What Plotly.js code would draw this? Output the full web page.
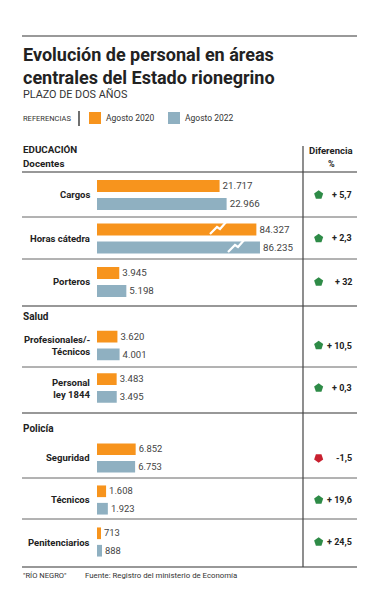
<!DOCTYPE html>
<html><head><meta charset="utf-8">
<script src="https://cdn.plot.ly/plotly-3.0.1.min.js"></script>
<style>html,body{margin:0;padding:0;background:#fff}#chart{width:383px;height:593px}</style>
</head><body><div id="chart"></div>
<script>
// ---- data ----
const sections = ["EDUCACIÓN", "Salud", "Policía"];
const eduCategories = ["Cargos", "Horas cátedra", "Porteros"];
const eduLabels = ["Cargos", "Horas cátedra", "Porteros"];
const edu2020 = [21717, 84327, 3945];
const edu2022 = [22966, 86235, 5198];
const eduDiff = [5.7, 2.3, 32];

const saludCategories = ["Profesionales/- Técnicos", "Personal ley 1844"];
const saludLabels = ["Profesionales/-<br>Técnicos", "Personal<br>ley 1844"];
const salud2020 = [3620, 3483];
const salud2022 = [4001, 3495];
const saludDiff = [10.5, 0.3];

const policiaCategories = ["Seguridad", "Técnicos", "Penitenciarios"];
const policiaLabels = ["Seguridad", "Técnicos", "Penitenciarios"];
const policia2020 = [6852, 1608, 713];
const policia2022 = [6753, 1923, 888];
const policiaDiff = [-1.5, 19.6, 24.5];

const brokenRows = ["Horas cátedra"];   // drawn on a compressed scale with break marks
const seriesNames = ["Agosto 2020", "Agosto 2022"];

// ---- styling ----
const W = 383, H = 593;
const C2020 = "#f7941d", C2022 = "#8fb0c1";
const UP = "#2e8b47", DOWN = "#c8202f";
const FONT = "Roboto, 'Liberation Sans', Arial, sans-serif";
const px = x => x / W;
const py = y => 1 - y / H;

function fmt(v) {
  return String(v).replace(/\B(?=(\d{3})+(?!\d))/g, ".");
}
function fmtDiff(d) {
  const s = (Math.abs(d) % 1 === 0 ? String(Math.abs(d)) : Math.abs(d).toFixed(1)).replace(".", ",");
  return (d >= 0 ? "+ " : "-") + s;
}

const groups = [
  {cats: eduCategories, labels: eduLabels, a: edu2020, b: edu2022, diff: eduDiff, y: "y"},
  {cats: saludCategories, labels: saludLabels, a: salud2020, b: salud2022, diff: saludDiff, y: "y2"},
  {cats: policiaCategories, labels: policiaLabels, a: policia2020, b: policia2022, diff: policiaDiff, y: "y3"}
];

const traces = [];
const annotations = [];
groups.forEach(g => {
  const mask = (arr, broken) => arr.map((v, i) => (brokenRows.includes(g.cats[i]) === broken ? v : null));
  [[g.a, C2020, seriesNames[0]], [g.b, C2022, seriesNames[1]]].forEach(([vals, col, nm]) => {
    const v = mask(vals, false);
    traces.push({
      type: "bar", orientation: "h", name: nm, showlegend: false,
      y: g.cats, x: v, xaxis: "x", yaxis: g.y,
      marker: {color: col},
      text: v.map(x => x == null ? "" : fmt(x)), textposition: "outside",
      textfont: {family: FONT, size: 10.5, color: "#444"},
      cliponaxis: false, hoverinfo: "x+name"
    });
  });
  const hasBroken = g.cats.some(c => brokenRows.includes(c));
  if (hasBroken) {
    [[g.a, C2020, seriesNames[0]], [g.b, C2022, seriesNames[1]]].forEach(([vals, col, nm]) => {
      const v = mask(vals, true);
      traces.push({
        type: "bar", orientation: "h", name: nm, showlegend: false,
        y: g.cats, x: v, xaxis: "x2", yaxis: g.y,
        marker: {color: col},
        text: v.map(x => x == null ? "" : fmt(x)), textposition: "outside",
        textfont: {family: FONT, size: 10.5, color: "#444"},
        cliponaxis: false, hoverinfo: "x+name"
      });
    });
  }
  // difference arrows
  traces.push({
    type: "scatter", mode: "markers", showlegend: false, hoverinfo: "skip",
    x: g.diff.map(() => 0.29), y: g.cats, xaxis: "x3", yaxis: g.y,
    marker: {symbol: "pentagon", size: 9.5,
      color: g.diff.map(d => d >= 0 ? UP : DOWN),
      angle: g.diff.map(d => d >= 0 ? 0 : 180)}
  });
  g.cats.forEach((c, i) => {
    annotations.push({xref: "paper", yref: g.y, x: px(92), y: c, xanchor: "right", yanchor: "middle",
      text: g.labels[i], showarrow: false, align: "right",
      font: {family: FONT, size: 9.5, color: "#222", weight: "bold"}});
    annotations.push({xref: "paper", yref: g.y, x: px(354), y: c, xanchor: "right", yanchor: "middle",
      text: "<b>" + fmtDiff(g.diff[i]) + "</b>", showarrow: false,
      font: {family: FONT, size: 9, color: "#222"}});
  });
});

// static texts
function txt(x, y, t, size, opts) {
  annotations.push(Object.assign({xref: "paper", yref: "paper", x: px(x), y: py(y), text: t,
    showarrow: false, xanchor: "left", yanchor: "middle",
    font: {family: FONT, size: size, color: "#222"}}, opts || {}));
}
txt(21, 42, "<b>Evolución de personal en áreas<br>centrales del Estado rionegrino</b>", 18, {yanchor: "top", align: "left"});
txt(21, 95, "PLAZO DE DOS AÑOS", 10.8, {font: {family: FONT, size: 10.8, color: "#333"}});
txt(21, 118, "REFERENCIAS", 7.5, {font: {family: FONT, size: 7.5, color: "#333"}});
txt(104, 118, seriesNames[0], 8.5, {font: {family: FONT, size: 8.5, color: "#333"}});
txt(183, 118, seriesNames[1], 8.5, {font: {family: FONT, size: 8.5, color: "#333"}});
txt(21, 149, "<b>" + sections[0] + "</b>", 9.8);
txt(21, 163, "<b>Docentes</b>", 9.8);
txt(21, 317, "<b>" + sections[1] + "</b>", 10);
txt(21, 428, "<b>" + sections[2] + "</b>", 10);
txt(331, 151, "<b>Diferencia</b>", 9.5, {xanchor: "center"});
txt(331, 164, "<b>%</b>", 9, {xanchor: "center"});
txt(21, 575, "\"RÍO NEGRO\"", 7.6, {font: {family: FONT, size: 7.6, color: "#333"}});
txt(83, 575, "Fuente: Registro del ministerio de Economía", 7.8, {font: {family: FONT, size: 7.8, color: "#333"}});

// decorative shapes
const shapes = [];
function hline(y, col, w) {
  shapes.push({type: "line", xref: "paper", yref: "paper", x0: px(22), x1: px(357), y0: py(y), y1: py(y),
    line: {color: col, width: w}});
}
hline(36, "#777", 1.5);
[172, 306, 413, 567].forEach(y => hline(y, "#333", 1.2));
[217, 259, 367, 478, 519].forEach(y => hline(y, "#666", 1));
shapes.push({type: "line", xref: "paper", yref: "paper", x0: px(303), x1: px(303), y0: py(146), y1: py(567),
  line: {color: "#444", width: 1.2}});
shapes.push({type: "line", xref: "paper", yref: "paper", x0: px(79), x1: px(79), y0: py(111), y1: py(126),
  line: {color: "#222", width: 1.3}});
shapes.push({type: "rect", xref: "paper", yref: "paper", x0: px(89), x1: px(101), y0: py(124), y1: py(112),
  line: {width: 0}, fillcolor: C2020});
shapes.push({type: "rect", xref: "paper", yref: "paper", x0: px(168), x1: px(180), y0: py(124), y1: py(112),
  line: {width: 0}, fillcolor: C2022});
function brk(x, y) {
  const pts = [[x, y + 12], [x + 7, y + 5], [x + 10, y + 7], [x + 17, y - 1]];
  const d = "M" + pts.map(p => px(p[0]) + "," + py(p[1])).join(" L");
  shapes.push({type: "path", xref: "paper", yref: "paper", path: d, line: {color: "#fff", width: 2.2}});
}
brk(210, 222);
brk(228, 240);

const yBase = {type: "category", autorange: "reversed", showticklabels: false, showgrid: false,
  zeroline: false, showline: false, ticks: "", fixedrange: true};
const xBase = {showticklabels: false, showgrid: false, zeroline: false, showline: false, ticks: "", fixedrange: true};

const layout = {
  width: W, height: H, margin: {l: 0, r: 0, t: 0, b: 0},
  paper_bgcolor: "#fff", plot_bgcolor: "rgba(0,0,0,0)",
  barmode: "group", bargap: 0.17, bargroupgap: 0.33,
  showlegend: false,
  font: {family: FONT},
  xaxis: Object.assign({}, xBase, {domain: [px(97), px(303)], range: [0, 36500], anchor: "y"}),
  xaxis2: Object.assign({}, xBase, {domain: [px(97), px(303)], range: [0, 109000], overlaying: "x", anchor: "y"}),
  xaxis3: Object.assign({}, xBase, {domain: [px(303), px(357)], range: [0, 1], anchor: "y"}),
  yaxis: Object.assign({}, yBase, {domain: [py(303.75), py(173.25)], categoryorder: "array", categoryarray: eduCategories}),
  yaxis2: Object.assign({}, yBase, {domain: [py(409.25), py(324.25)], categoryorder: "array", categoryarray: saludCategories}),
  yaxis3: Object.assign({}, yBase, {domain: [py(563), py(437)], categoryorder: "array", categoryarray: policiaCategories}),
  annotations: annotations,
  shapes: shapes
};

Plotly.newPlot("chart", traces, layout, {displayModeBar: false, staticPlot: true});
</script>
</body></html>
